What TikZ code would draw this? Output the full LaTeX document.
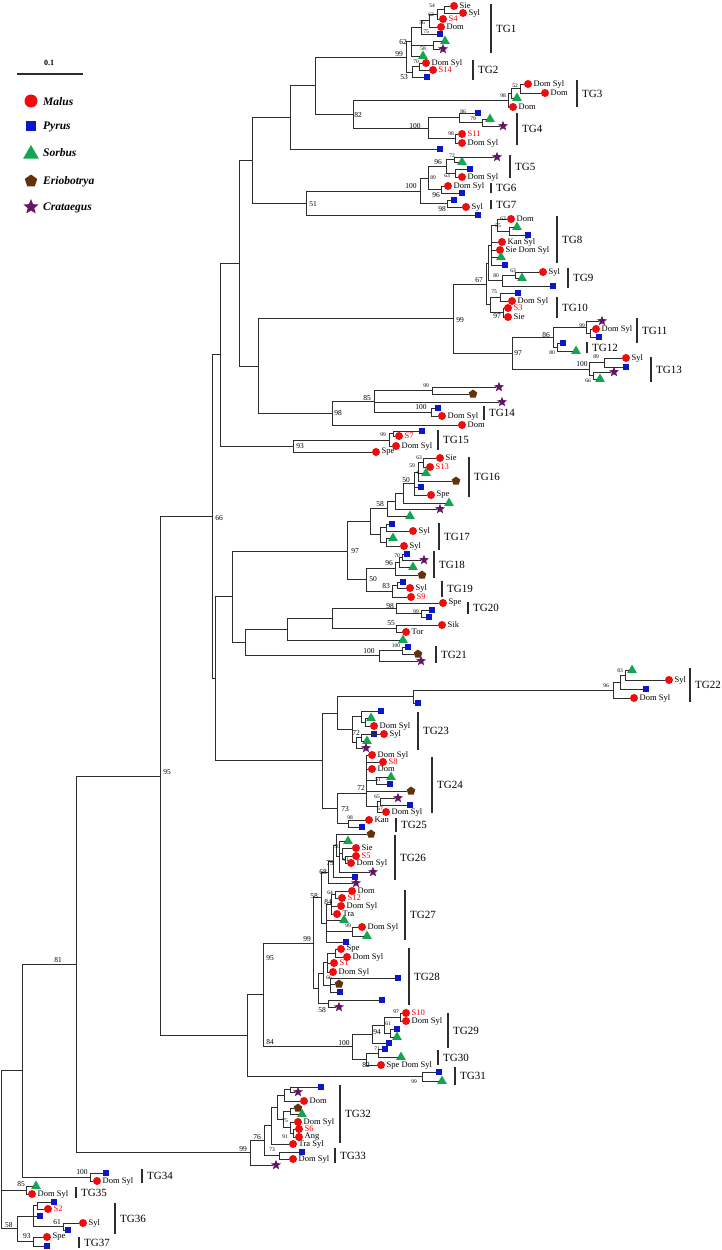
\documentclass[tikz,border=0pt]{standalone}
\usepackage{fontspec}
\setmainfont{Liberation Serif}
\usetikzlibrary{shapes.geometric}
\definecolor{malred}{RGB}{240,12,12}
\definecolor{pyrblue}{RGB}{12,24,200}
\definecolor{sorgreen}{RGB}{20,165,80}
\definecolor{eribrown}{RGB}{100,50,10}
\definecolor{crapurple}{RGB}{100,22,100}
\definecolor{lncol}{RGB}{45,45,45}
\tikzset{
 br/.style={draw=lncol, line width=0.85pt},
 mal/.style={circle, fill=malred, inner sep=0pt, minimum size=8pt},
 pyr/.style={rectangle, fill=pyrblue, inner sep=0pt, minimum size=6.5pt},
 sor/.style={regular polygon, regular polygon sides=3, fill=sorgreen, inner sep=0pt, minimum size=11pt},
 eri/.style={regular polygon, regular polygon sides=5, fill=eribrown, inner sep=0pt, minimum size=9pt},
 cra/.style={star, star points=5, star point ratio=2.3, fill=crapurple, inner sep=0pt, minimum size=10.5pt},
 lbl/.style={font=\fontsize{8.5}{9}\selectfont, inner sep=1.3pt, anchor=west},
 bs/.style={font=\fontsize{7.5}{8}\selectfont, inner sep=0pt},
 bss/.style={font=\fontsize{5.5}{6}\selectfont, inner sep=0pt},
 tg/.style={font=\fontsize{11}{12}\selectfont, anchor=west, inner sep=0pt},
 tgbar/.style={draw=lncol, line width=1.5pt},
 leg/.style={font=\bfseries\itshape\fontsize{11.5}{12}\selectfont, anchor=west, inner sep=0pt}
}
\newcommand{\Co}[3]{\coordinate (#1) at (#2,#3);}
\newcommand{\Ed}[2]{\foreach \cc in {#2}{\draw[br] (#1) |- (\cc);}}
\newcommand{\LeafN}[4]{\node[#2] (#1) at (#3,#4) {};}
\newcommand{\LeafT}[5]{\node[#2] (#1) at (#3,#4) {}; \node[lbl] (#1t) at (#1.east) {#5};}
\newcommand{\LeafR}[5]{\node[#2] (#1) at (#3,#4) {}; \node[lbl, text=red] (#1t) at (#1.east) {#5};}
\newcommand{\TG}[5]{\coordinate (#1a) at (#2,#3); \coordinate (#1b) at (#2,#4); \draw[tgbar] (#1a) -- (#1b); \node[tg] (#1) at ({#2+5},{(#3+#4)/2}) {#5};}
\begin{document}
\begin{tikzpicture}[x=1pt,y=-1pt]
\path[fill=white] (0,0) rectangle (722,1250);
\path[use as bounding box] (0,0) rectangle (722,1250);
% scale bar and legend
\coordinate (sb1) at (17,74); \coordinate (sb2) at (83,74);
\draw[draw=lncol, line width=1.2pt] (sb1) -- (sb2);
\node[font=\bfseries\fontsize{8}{9}\selectfont] (sbl) at (49,63) {0.1};
\node[mal, minimum size=13pt] (lg1) at (31,101) {}; \node[leg] (lg1t) at (43,102) {Malus};
\node[pyr, minimum size=10.5pt] (lg2) at (31,126) {}; \node[leg] (lg2t) at (43,127) {Pyrus};
\node[sor, minimum size=18pt] (lg3) at (31,154) {}; \node[leg] (lg3t) at (43,153) {Sorbus};
\node[eri, minimum size=13pt] (lg4) at (31,181) {}; \node[leg] (lg4t) at (43,182) {Eriobotrya};
\node[cra, minimum size=16pt] (lg5) at (31,207) {}; \node[leg] (lg5t) at (43,208) {Crataegus};
% ---------- TG1 / TG2
\LeafT{sie1}{mal}{454}{6}{Sie}
\LeafT{syl1}{mal}{463}{13}{Syl}
\LeafR{s4}{mal}{443}{19}{S4}
\LeafT{dom1}{mal}{441}{27}{Dom}
\LeafN{sq1}{pyr}{440}{34}
\LeafN{tr1}{sor}{445}{41}
\LeafN{st1}{cra}{443}{49}
\LeafN{tr2}{sor}{423}{56}
\LeafT{ds2}{mal}{426}{63}{Dom Syl}
\LeafR{s14}{mal}{433}{70}{S14}
\LeafN{sq2}{pyr}{427}{77}
\Co{a54}{444}{9.5} \Ed{a54}{sie1,syl1}
\Co{a62b}{437}{14} \Ed{a62b}{a54,s4}
\Co{a56}{429}{20.5} \Ed{a56}{a62b,dom1}
\Co{a75}{421}{27} \Ed{a75}{a56,sq1}
\Co{a58}{433}{45} \Ed{a58}{tr1,st1}
\Co{a62}{411}{41.5} \Ed{a62}{a75,a58,tr2}
\Co{a70}{419}{66.5} \Ed{a70}{ds2,s14}
\Co{a53}{412}{72} \Ed{a53}{a70,sq2}
\Co{a99}{406}{57} \Ed{a99}{a62,a53}
% ---------- TG3
\LeafT{ds3}{mal}{528}{84}{Dom Syl}
\LeafT{dm3a}{mal}{545}{93}{Dom}
\LeafN{tr3}{sor}{517}{98}
\LeafT{dm3b}{mal}{513}{107}{Dom}
\Co{c52}{520}{88.5} \Ed{c52}{ds3,dm3a}
\Co{c3}{511}{93.25} \Ed{c3}{c52,tr3}
\Co{c98}{508}{100} \Ed{c98}{c3,dm3b}
% ---------- TG4
\LeafN{sq4}{pyr}{478}{113}
\LeafN{tr4}{sor}{490}{119}
\LeafN{st4}{cra}{503}{126}
\LeafR{s11}{mal}{462}{134}{S11}
\LeafT{ds4}{mal}{462}{143}{Dom Syl}
\Co{d79}{482}{122.5} \Ed{d79}{tr4,st4}
\Co{d86}{459}{117.75} \Ed{d86}{sq4,d79}
\Co{d98}{455}{138.5} \Ed{d98}{s11,ds4}
\Co{d100}{428}{128} \Ed{d100}{d86,d98}
\Co{d82}{353}{114} \Ed{d82}{c98,d100}
\Co{e315}{315}{85.5} \Ed{e315}{a99,d82}
\LeafN{sq5}{pyr}{440}{149}
\Co{e290}{290}{117} \Ed{e290}{e315,sq5}
% ---------- TG5-TG7
\LeafN{st5}{cra}{497}{157}
\LeafN{tr5}{sor}{462}{162}
\LeafN{sq6}{pyr}{470}{169}
\LeafT{ds6}{mal}{462}{177}{Dom Syl}
\LeafT{ds7}{mal}{448}{186}{Dom Syl}
\LeafN{sq7}{pyr}{462}{193}
\LeafN{sq8}{pyr}{454}{200}
\LeafT{sy8}{mal}{466}{207}{Syl}
\LeafN{sq9}{pyr}{478}{215}
\Co{f72}{454}{159.5} \Ed{f72}{st5,tr5}
\Co{f63}{455}{173} \Ed{f63}{sq6,ds6}
\Co{f96}{446}{166.25} \Ed{f96}{f72,f63}
\Co{f96b}{441}{189.5} \Ed{f96b}{ds7,sq7}
\Co{f89}{428}{178} \Ed{f89}{f96,f96b}
\Co{f98}{447}{203.5} \Ed{f98}{sq8,sy8}
\Co{f100}{420}{191} \Ed{f100}{f89,f98}
\Co{f51}{306}{203} \Ed{f51}{f100,sq9}
\Co{g252}{252}{160} \Ed{g252}{e290,f51}
% ---------- TG8-TG10
\LeafT{dm8}{mal}{511}{219}{Dom}
\LeafN{tr8}{sor}{517}{227}
\LeafN{sq8a}{pyr}{528}{235}
\LeafT{ks8}{mal}{502}{242}{Kan Syl}
\LeafT{sds8}{mal}{500}{250}{Sie Dom Syl}
\LeafN{tr8b}{sor}{501}{257}
\LeafN{sq8b}{pyr}{505}{265}
\Co{h55}{509}{231} \Ed{h55}{tr8,sq8a}
\Co{h63}{497}{225} \Ed{h63}{dm8,h55}
\Co{h8}{491}{245.5} \Ed{h8}{h63,ks8,sds8,tr8b,sq8b}
\LeafT{sy9}{mal}{543}{272}{Syl}
\LeafN{tr9}{sor}{522}{278}
\LeafN{sq9b}{pyr}{553}{286}
\Co{h63b}{515}{275} \Ed{h63b}{sy9,tr9}
\Co{h80}{502}{280.5} \Ed{h80}{h63b,sq9b}
\Co{h89}{488}{263} \Ed{h89}{h8,h80}
\LeafN{sq10}{pyr}{518}{293}
\LeafT{ds10}{mal}{512}{301}{Dom Syl}
\LeafR{s3}{mal}{508}{308}{S3}
\LeafT{sie10}{mal}{508}{317}{Sie}
\Co{h75}{500}{297} \Ed{h75}{sq10,ds10}
\Co{h97}{503}{312.5} \Ed{h97}{s3,sie10}
\Co{h10}{490}{304.75} \Ed{h10}{h75,h97}
\Co{h67}{486}{284} \Ed{h67}{h89,h10}
% ---------- TG11-TG13
\LeafN{st11}{cra}{602}{321}
\LeafT{ds11}{mal}{596}{329}{Dom Syl}
\LeafN{sq11}{pyr}{599}{337}
\LeafN{sq12}{pyr}{563}{343}
\LeafN{tr12}{sor}{576}{351}
\LeafT{sy13}{mal}{626}{358}{Syl}
\LeafN{sq13}{pyr}{626}{367}
\LeafN{st13}{cra}{614}{372}
\LeafN{tr13}{sor}{600}{379}
\Co{i11}{590}{333} \Ed{i11}{ds11,sq11}
\Co{i99}{586}{327} \Ed{i99}{st11,i11}
\Co{i80}{557}{347} \Ed{i80}{sq12,tr12}
\Co{i86}{553}{337} \Ed{i86}{i99,i80}
\Co{i89}{604}{362.5} \Ed{i89}{sy13,sq13}
\Co{i66}{593}{375.5} \Ed{i66}{st13,tr13}
\Co{i100}{589}{369} \Ed{i100}{i89,i66}
\Co{i97}{512}{353} \Ed{i97}{i86,i100}
\Co{j99}{453}{318.5} \Ed{j99}{h67,i97}
% ---------- TG14
\LeafN{st14a}{cra}{499}{387}
\LeafN{pe14}{eri}{473}{394}
\LeafN{st14b}{cra}{502}{402}
\LeafN{sq14}{pyr}{438}{408}
\LeafT{ds14}{mal}{442}{416}{Dom Syl}
\LeafT{dm14}{mal}{462}{425}{Dom}
\Co{k99}{432}{390.5} \Ed{k99}{st14a,pe14}
\Co{k100}{431}{412} \Ed{k100}{sq14,ds14}
\Co{k85}{374}{401} \Ed{k85}{k99,st14b,k100}
\Co{k98}{332}{413} \Ed{k98}{k85,dm14}
\Co{k258}{258}{366} \Ed{k258}{j99,k98}
\Co{k239}{239}{263} \Ed{k239}{g252,k258}
% ---------- TG15
\LeafN{sq15}{pyr}{422}{431}
\LeafR{s7}{mal}{399}{436}{S7}
\LeafT{ds15}{mal}{396}{446}{Dom Syl}
\LeafT{sp15}{mal}{376}{452}{Spe}
\Co{l15}{393}{433.5} \Ed{l15}{sq15,s7}
\Co{l99}{389}{440} \Ed{l99}{l15,ds15}
\Co{l93}{293}{446} \Ed{l93}{l99,sp15}
\Co{l220}{220}{354.5} \Ed{l220}{k239,l93}
% ---------- TG16-TG19
\LeafT{sie16}{mal}{440}{458}{Sie}
\LeafR{s13}{mal}{430}{467}{S13}
\LeafN{tr16a}{sor}{426}{473}
\LeafN{pe16}{eri}{456}{481}
\LeafN{sq16}{pyr}{421}{487}
\LeafT{sp16}{mal}{431}{495}{Spe}
\LeafN{tr16b}{sor}{449}{503}
\LeafN{st16}{cra}{440}{509}
\LeafN{tr16c}{sor}{410}{516}
\Co{m63}{423}{462.5} \Ed{m63}{sie16,s13}
\Co{m59}{418}{472} \Ed{m59}{m63,tr16a,pe16}
\Co{m50}{414}{483.5} \Ed{m50}{m59,sq16,sp16}
\Co{m403}{403}{493.25} \Ed{m403}{m50,tr16b}
\Co{m395}{395}{501} \Ed{m395}{m403,st16}
\Co{m58}{387}{508.5} \Ed{m58}{m395,tr16c}
\LeafN{sq17}{pyr}{392}{524}
\LeafT{sy17a}{mal}{413}{531}{Syl}
\LeafN{tr17}{sor}{393}{538}
\LeafT{sy17b}{mal}{404}{546}{Syl}
\Co{m17a}{386}{527.5} \Ed{m17a}{sq17,sy17a}
\Co{m17b}{386}{542} \Ed{m17b}{tr17,sy17b}
\Co{m17}{380}{534.75} \Ed{m17}{m17a,m17b}
\Co{m370}{370}{521.75} \Ed{m370}{m58,m17}
\LeafN{sq18}{pyr}{407}{554}
\LeafN{st18}{cra}{424}{560}
\LeafN{tr18}{sor}{413}{567}
\LeafN{pe18}{eri}{422}{575}
\Co{n18a}{402}{557} \Ed{n18a}{sq18,st18}
\Co{n70}{399}{562} \Ed{n70}{n18a,tr18}
\Co{n96}{395}{568.5} \Ed{n96}{n70,pe18}
\LeafN{sq19}{pyr}{403}{582}
\LeafT{sy19}{mal}{410}{588}{Syl}
\LeafR{s9}{mal}{411}{597}{S9}
\Co{n19a}{397}{585} \Ed{n19a}{sq19,sy19}
\Co{n83}{392}{591} \Ed{n83}{n19a,s9}
\Co{n50}{366}{579.75} \Ed{n50}{n96,n83}
\Co{n97}{347}{551} \Ed{n97}{m370,n50}
% ---------- TG20-TG21
\LeafT{sp20}{mal}{443}{603}{Spe}
\LeafN{sq20a}{pyr}{432}{610}
\LeafN{sq20b}{pyr}{429}{617}
\LeafT{sik}{mal}{442}{625}{Sik}
\LeafT{tor}{mal}{406}{632}{Tor}
\LeafN{tr20}{sor}{403}{640}
\LeafN{sq21}{pyr}{408}{647}
\LeafN{pe21}{eri}{418}{654}
\LeafN{st21}{cra}{421}{661}
\Co{o99}{421}{613.5} \Ed{o99}{sq20a,sq20b}
\Co{o98}{396}{608.25} \Ed{o98}{sp20,o99}
\Co{o55}{396}{628.5} \Ed{o55}{sik,tor}
\Co{o332}{332}{618.4} \Ed{o332}{o98,o55}
\Co{o287}{287}{629.2} \Ed{o287}{o332,tr20}
\Co{o21}{402}{650.5} \Ed{o21}{sq21,pe21}
\Co{o100}{379}{655.75} \Ed{o100}{o21,st21}
\Co{o245}{245}{642.5} \Ed{o245}{o287,o100}
\Co{o232}{232}{596.75} \Ed{o232}{n97,o245}
% ---------- TG22-TG25
\LeafN{tr22}{sor}{632}{670}
\LeafT{sy22}{mal}{669}{680}{Syl}
\LeafN{sq22}{pyr}{646}{689}
\LeafT{ds22}{mal}{634}{698}{Dom Syl}
\LeafN{sq22b}{pyr}{418}{703}
\Co{p83}{625}{675} \Ed{p83}{tr22,sy22}
\Co{p22}{620}{682} \Ed{p22}{p83,sq22}
\Co{p96}{613}{690} \Ed{p96}{p22,ds22}
\Co{p413}{413}{696.5} \Ed{p413}{p96,sq22b}
\LeafN{sq23a}{pyr}{381}{711}
\LeafN{tr23a}{sor}{371}{718}
\LeafT{ds23}{mal}{374}{726}{Dom Syl}
\LeafN{sq23b}{pyr}{374}{734}
\LeafT{sy23}{mal}{384}{734}{Syl}
\LeafN{tr23b}{sor}{367}{741}
\LeafN{st23}{cra}{366}{748}
\Co{q23c}{369}{734} \Ed{q23c}{sy23,sq23b}
\Co{q23d}{361}{737.5} \Ed{q23d}{q23c,tr23b}
\Co{q23e}{356}{742.75} \Ed{q23e}{q23d,st23}
\Co{q23a}{365}{722} \Ed{q23a}{tr23a,ds23}
\Co{q363}{361}{716.5} \Ed{q363}{sq23a,q23a}
\Co{q352}{352}{729.6} \Ed{q352}{q363,q23e}
\Co{q337a}{337}{713} \Ed{q337a}{p413,q352}
\LeafT{ds24a}{mal}{372}{755}{Dom Syl}
\LeafR{s8}{mal}{383}{762}{S8}
\LeafT{dm24}{mal}{372}{769}{Dom}
\LeafN{tr24}{sor}{391}{777}
\LeafN{sq24a}{pyr}{390}{784}
\LeafN{pe24}{eri}{411}{791}
\LeafN{st24}{cra}{398}{798}
\LeafN{sq24b}{pyr}{410}{805}
\LeafT{ds24b}{mal}{386}{812}{Dom Syl}
\Co{r51}{376}{780.5} \Ed{r51}{tr24,sq24a}
\Co{r65}{380}{801.5} \Ed{r65}{st24,sq24b}
\Co{r57}{377}{806.75} \Ed{r57}{r65,ds24b}
\Co{r72}{366}{793} \Ed{r72}{ds24a,s8,dm24,r51,pe24,r57}
\LeafT{kan}{mal}{369}{820}{Kan}
\LeafN{sq25}{pyr}{362}{827}
\Co{r98}{348}{823.5} \Ed{r98}{kan,sq25}
\Co{r73}{337}{808.25} \Ed{r73}{r72,r98}
\Co{r322}{322}{760.6} \Ed{r322}{q337a,r73}
\Co{r215}{215}{678.7} \Ed{r215}{o232,r322}
\Co{r212}{212}{516.6} \Ed{r212}{l220,r215}
% ---------- TG26-TG28
\LeafN{pe26}{eri}{371}{834}
\LeafN{tr26}{sor}{348}{841}
\LeafT{sie26}{mal}{356}{848}{Sie}
\LeafR{s5}{mal}{356}{856}{S5}
\LeafT{ds26}{mal}{351}{863}{Dom Syl}
\LeafN{st26a}{cra}{373}{872}
\LeafN{sq26}{pyr}{355}{877}
\LeafN{st26b}{cra}{356}{883}
\Co{t61}{345}{859.5} \Ed{t61}{s5,ds26}
\Co{ts}{342}{853.75} \Ed{ts}{sie26,t61}
\Co{t50}{339}{856.5} \Ed{t50}{tr26,ts,st26a}
\Co{t342}{336}{845.25} \Ed{t342}{pe26,t50}
\Co{t79}{333}{861} \Ed{t79}{t342,sq26}
\Co{t68}{328}{872} \Ed{t68}{t79,st26b}
\LeafT{dm27}{mal}{352}{891}{Dom}
\LeafR{s12}{mal}{342}{898}{S12}
\LeafT{ds27a}{mal}{341}{906}{Dom Syl}
\LeafT{tra}{mal}{337}{914}{Tra}
\LeafN{tr27a}{sor}{344}{920}
\LeafT{ds27b}{mal}{362}{927}{Dom Syl}
\LeafN{tr27b}{sor}{367}{936}
\LeafN{sq27}{pyr}{346}{942}
\Co{u64}{335}{894.5} \Ed{u64}{dm27,s12}
\Co{u84}{331}{904.25} \Ed{u84}{u64,ds27a,tra}
\Co{u99}{352}{931.5} \Ed{u99}{ds27b,tr27b}
\Co{u27}{326}{923} \Ed{u27}{u84,tr27a,u99,sq27}
\Co{u58}{321}{897.5} \Ed{u58}{t68,u27}
\LeafT{sp28}{mal}{341}{949}{Spe}
\LeafT{ds28a}{mal}{347}{957}{Dom Syl}
\LeafR{s1}{mal}{334}{963}{S1}
\LeafT{ds28b}{mal}{333}{972}{Dom Syl}
\LeafN{sq28a}{pyr}{398}{978}
\LeafN{pe28}{eri}{339}{984}
\LeafN{sq28b}{pyr}{340}{992}
\LeafN{sq28c}{pyr}{382}{1000}
\LeafN{st28}{cra}{339}{1007}
\Co{v28a}{335}{953} \Ed{v28a}{sp28,ds28a}
\Co{v28b}{327}{962.5} \Ed{v28b}{v28a,s1,ds28b}
\Co{v66}{330}{985} \Ed{v66}{sq28a,pe28,sq28b}
\Co{v28c}{323}{973.75} \Ed{v28c}{v28b,v66}
\Co{v28d}{328}{1003.5} \Ed{v28d}{sq28c,st28}
\Co{v58}{318}{988.6} \Ed{v58}{v28c,v28d}
\Co{v99}{313}{943} \Ed{v99}{u58,v58}
% ---------- TG29-TG31
\LeafR{s10}{mal}{406}{1013}{S10}
\LeafT{ds29}{mal}{406}{1021}{Dom Syl}
\LeafN{sq29a}{pyr}{397}{1029}
\LeafN{tr29}{sor}{397}{1037}
\LeafN{sq29b}{pyr}{389}{1043}
\LeafN{sq30}{pyr}{385}{1049}
\LeafN{tr30}{sor}{401}{1057}
\LeafT{sds30}{mal}{381}{1065}{Spe Dom Syl}
\LeafN{sq31}{pyr}{439}{1072}
\LeafN{tr31}{sor}{442}{1081}
\Co{w97}{400}{1017} \Ed{w97}{s10,ds29}
\Co{w29}{390}{1033} \Ed{w29}{sq29a,tr29}
\Co{w61}{384}{1025} \Ed{w61}{w97,w29}
\Co{w94}{372}{1034} \Ed{w94}{w61,sq29b}
\Co{w71}{378}{1053} \Ed{w71}{sq30,tr30}
\Co{w82}{366}{1059} \Ed{w82}{w71,sds30}
\Co{w100}{352}{1046.5} \Ed{w100}{w94,w82}
\Co{w99}{422}{1076.5} \Ed{w99}{sq31,tr31}
\Co{w95}{263}{994.75} \Ed{w95}{v99,w100}
\Co{w84}{247}{1035.6} \Ed{w84}{w95,w99}
% ---------- TG32-TG33
\LeafN{sq32}{pyr}{321}{1087}
\LeafN{st32}{cra}{298}{1092}
\LeafT{dm32}{mal}{304}{1101}{Dom}
\LeafN{pe32}{eri}{298}{1108}
\LeafN{tr32}{sor}{302}{1114}
\LeafT{ds32}{mal}{298}{1122}{Dom Syl}
\LeafR{s6}{mal}{299}{1129}{S6}
\LeafT{ang}{mal}{299}{1137}{Ang}
\LeafT{trs}{mal}{293}{1144}{Tra Syl}
\LeafN{sq33}{pyr}{302}{1152}
\LeafT{ds33}{mal}{293}{1159}{Dom Syl}
\LeafN{st33}{cra}{276}{1165}
\Co{xa}{290}{1089.5} \Ed{xa}{sq32,st32}
\Co{xb}{284}{1095.25} \Ed{xb}{xa,dm32}
\Co{xc}{290}{1111} \Ed{xc}{pe32,tr32}
\Co{xd}{293}{1133} \Ed{xd}{s6,ang}
\Co{xe}{290.5}{1127.5} \Ed{xe}{ds32,xd}
\Co{xf}{283}{1119.25} \Ed{xf}{xc,xe}
\Co{xg}{277}{1107.25} \Ed{xg}{xb,xf}
\Co{xh}{271}{1125.6} \Ed{xh}{xg,trs}
\Co{xi}{279}{1155.5} \Ed{xi}{sq33,ds33}
\Co{xj}{264}{1140.5} \Ed{xj}{xh,xi}
\Co{xk}{250}{1152.75} \Ed{xk}{xj,st33}
% ---------- TG34-TG37
\LeafN{sq34}{pyr}{106}{1173}
\LeafT{ds34}{mal}{97}{1181}{Dom Syl}
\Co{z100}{90}{1177} \Ed{z100}{sq34,ds34}
\LeafN{tr35}{sor}{36}{1186}
\LeafT{ds35}{mal}{32}{1194}{Dom Syl}
\Co{z85}{26}{1190} \Ed{z85}{tr35,ds35}
\LeafN{sq36a}{pyr}{54}{1202}
\LeafR{s2}{mal}{48}{1209}{S2}
\LeafN{sq36b}{pyr}{40}{1216}
\LeafT{sy36}{mal}{83}{1223}{Syl}
\LeafN{sq36c}{pyr}{68}{1230}
\Co{z37}{37}{1205.5} \Ed{z37}{sq36a,s2}
\Co{z61}{63}{1226.5} \Ed{z61}{sy36,sq36c}
\Co{z34}{33}{1216} \Ed{z34}{z37,sq36b,z61}
\LeafT{sp37}{mal}{47}{1237}{Spe}
\LeafN{sq37}{pyr}{47}{1246}
\Co{z93}{33}{1241.5} \Ed{z93}{sp37,sq37}
\Co{z58}{17}{1228.75} \Ed{z58}{z34,z93}
% ---------- backbone
\Co{y160}{160}{776} \Ed{y160}{r212,w84}
\Co{y76}{76}{964.4} \Ed{y76}{y160,xk}
\Co{y22}{22}{1070.7} \Ed{y22}{y76,z100}
\Co{y0}{1.5}{1150} \Ed{y0}{y22,z85,z58}
% ---------- bootstrap values
\node[bss] (b1) at (432,6) {54};
\node[bss] (b2) at (431,15) {62};
\node[bss] (b3) at (422,23) {56};
\node[bss] (b4) at (426,32) {75};
\node[bs] (b5) at (403,42) {62};
\node[bss] (b6) at (423,49) {58};
\node[bs] (b7) at (399,54) {99};
\node[bss] (b8) at (416,62) {70};
\node[bs] (b9) at (404,77) {53};
\node[bss] (b10) at (503,96) {98};
\node[bss] (b11) at (515,86) {52};
\node[bs] (b12) at (358,115) {82};
\node[bs] (b13) at (415,126) {100};
\node[bss] (b14) at (463,112) {86};
\node[bss] (b15) at (473,119) {79};
\node[bss] (b16) at (451,134) {98};
\node[bss] (b17) at (452,156) {72};
\node[bs] (b18) at (438,162) {96};
\node[bss] (b19) at (433,178) {89};
\node[bss] (b20) at (447,176) {63};
\node[bs] (b21) at (411,186) {100};
\node[bs] (b22) at (436,195) {96};
\node[bs] (b23) at (442,209) {98};
\node[bs] (b24) at (313,204) {51};
\node[bss] (b25) at (503,219) {63};
\node[bss] (b26) at (498,226) {55};
\node[bs] (b27) at (479,280) {67};
\node[bss] (b28) at (496,276) {80};
\node[bss] (b29) at (513,271) {63};
\node[bss] (b30) at (494,292) {75};
\node[bs] (b31) at (497,316) {97};
\node[bs] (b32) at (460,320) {99};
\node[bss] (b33) at (582,326) {99};
\node[bs] (b34) at (546,335) {86};
\node[bss] (b35) at (552,353) {80};
\node[bs] (b36) at (518,353) {97};
\node[bs] (b37) at (582,364) {100};
\node[bss] (b38) at (596,357) {89};
\node[bss] (b39) at (588,381) {66};
\node[bss] (b40) at (426,386) {99};
\node[bs] (b41) at (367,398) {85};
\node[bs] (b42) at (421,407) {100};
\node[bs] (b43) at (338,413) {98};
\node[bss] (b44) at (383,435) {99};
\node[bs] (b45) at (300,446) {93};
\node[bss] (b46) at (419,458) {63};
\node[bss] (b47) at (412,466) {59};
\node[bss] (b48) at (418,473) {6};
\node[bs] (b49) at (406,480) {50};
\node[bs] (b50) at (380,504) {58};
\node[bs] (b51) at (219,518) {66};
\node[bs] (b52) at (355,551) {97};
\node[bss] (b53) at (397,556) {70};
\node[bs] (b54) at (389,563) {96};
\node[bs] (b55) at (373,579) {50};
\node[bs] (b56) at (386,586) {83};
\node[bs] (b57) at (390,606) {98};
\node[bss] (b58) at (416,612) {99};
\node[bs] (b59) at (391,623) {55};
\node[bs] (b60) at (369,651) {100};
\node[bss] (b61) at (396,646) {100};
\node[bss] (b62) at (606,686) {96};
\node[bss] (b63) at (620,671) {83};
\node[bs] (b64) at (356,733) {72};
\node[bss] (b65) at (378,780) {51};
\node[bs] (b66) at (361,788) {72};
\node[bss] (b67) at (377,797) {65};
\node[bss] (b68) at (380,809) {57};
\node[bs] (b69) at (345,809) {73};
\node[bss] (b70) at (350,818) {98};
\node[bss] (b71) at (337,847) {50};
\node[bs] (b72) at (330,863) {79};
\node[bss] (b73) at (346,860) {61};
\node[bs] (b74) at (323,872) {68};
\node[bs] (b75) at (314,896) {58};
\node[bss] (b76) at (330,893) {64};
\node[bs] (b77) at (328,902) {84};
\node[bss] (b78) at (348,926) {99};
\node[bs] (b79) at (307,939) {99};
\node[bss] (b80) at (329,978) {66};
\node[bs] (b81) at (322,1010) {58};
\node[bss] (b82) at (396,1012) {97};
\node[bss] (b83) at (388,1024) {61};
\node[bs] (b84) at (377,1032) {94};
\node[bs] (b85) at (344,1043) {100};
\node[bss] (b86) at (377,1049) {71};
\node[bs] (b87) at (366,1065) {82};
\node[bs] (b88) at (270,1042) {84};
\node[bs] (b89) at (270,958) {95};
\node[bss] (b90) at (414,1082) {99};
\node[bss] (b91) at (285,1121) {75};
\node[bss] (b92) at (285,1137) {91};
\node[bs] (b93) at (257,1137) {76};
\node[bss] (b94) at (272,1150) {73};
\node[bs] (b95) at (243,1149) {99};
\node[bs] (b96) at (58,960) {81};
\node[bs] (b97) at (82,1172) {100};
\node[bs] (b98) at (21,1184) {85};
\node[bs] (b99) at (57,1222) {61};
\node[bs] (b100) at (9,1225) {58};
\node[bs] (b101) at (27,1236) {93};
\node[bs] (b102) at (167,772) {95};
% ---------- group bars
\TG{tg1}{491}{4}{53}{TG1}
\TG{tg2}{473}{60}{80}{TG2}
\TG{tg3}{577}{80}{107}{TG3}
\TG{tg4}{517}{113}{145}{TG4}
\TG{tg5}{510}{155}{178}{TG5}
\TG{tg6}{491}{183}{193}{TG6}
\TG{tg7}{491}{200}{209}{TG7}
\TG{tg8}{557}{216}{263}{TG8}
\TG{tg9}{568}{268}{288}{TG9}
\TG{tg10}{557}{297}{318}{TG10}
\TG{tg11}{637}{318}{343}{TG11}
\TG{tg12}{587}{342}{353}{TG12}
\TG{tg13}{651}{357}{382}{TG13}
\TG{tg14}{484}{406}{420}{TG14}
\TG{tg15}{438}{430}{450}{TG15}
\TG{tg16}{469}{457}{497}{TG16}
\TG{tg17}{439}{523}{550}{TG17}
\TG{tg18}{434}{551}{578}{TG18}
\TG{tg19}{442}{581}{597}{TG19}
\TG{tg20}{468}{602}{614}{TG20}
\TG{tg21}{436}{646}{663}{TG21}
\TG{tg22}{690}{668}{702}{TG22}
\TG{tg23}{418}{712}{750}{TG23}
\TG{tg24}{432}{757}{813}{TG24}
\TG{tg25}{396}{818}{832}{TG25}
\TG{tg26}{395}{835}{880}{TG26}
\TG{tg27}{405}{890}{940}{TG27}
\TG{tg28}{409}{948}{1005}{TG28}
\TG{tg29}{448}{1013}{1048}{TG29}
\TG{tg30}{438}{1050}{1065}{TG30}
\TG{tg31}{455}{1067}{1085}{TG31}
\TG{tg32}{340}{1085}{1143}{TG32}
\TG{tg33}{335}{1148}{1163}{TG33}
\TG{tg34}{142}{1169}{1183}{TG34}
\TG{tg35}{76}{1187}{1198}{TG35}
\TG{tg36}{115}{1203}{1234}{TG36}
\TG{tg37}{79}{1237}{1248}{TG37}
\end{tikzpicture}
\end{document}
